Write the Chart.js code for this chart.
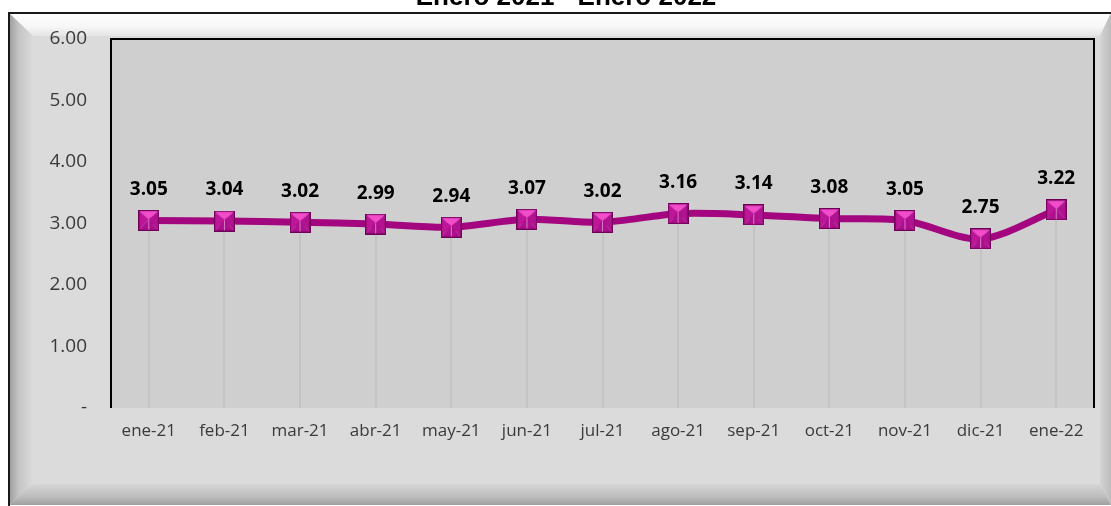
<!DOCTYPE html>
<html>
<head>
<meta charset="utf-8">
<script src="https://cdn.jsdelivr.net/npm/chart.js@4.4.1/dist/chart.umd.min.js"></script>
<style>
html,body{margin:0;padding:0;background:#fff;}
canvas{display:block;}
</style>
</head>
<body>
<canvas id="c" width="1111" height="506"></canvas>
<script>
const titleText = 'Enero 2021 - Enero 2022';
const categories = ['ene-21','feb-21','mar-21','abr-21','may-21','jun-21','jul-21','ago-21','sep-21','oct-21','nov-21','dic-21','ene-22'];
const values = [3.05,3.04,3.02,2.99,2.94,3.07,3.02,3.16,3.14,3.08,3.05,2.75,3.22];
const yTicks = [0,1,2,3,4,5,6];

// pyramid square marker
function makeMarker(){
  const s = 21, c = document.createElement('canvas');
  c.width = s; c.height = s;
  const g = c.getContext('2d');
  const cx = s/2, cy = s*0.45;
  const tri = (pts, col) => { g.beginPath(); g.moveTo(pts[0][0],pts[0][1]); for(let i=1;i<pts.length;i++) g.lineTo(pts[i][0],pts[i][1]); g.closePath(); g.fillStyle = col; g.fill(); };
  tri([[0,0],[s,0],[cx,cy]], '#f24ccb');
  tri([[0,0],[0,s],[cx,cy]], '#be1699');
  tri([[s,0],[s,s],[cx,cy]], '#b01290');
  tri([[0,s],[s,s],[cx,cy]], '#ac108c');
  g.strokeStyle = 'rgba(230,150,215,0.8)'; g.lineWidth = 1;
  g.beginPath(); g.moveTo(cx, cy); g.lineTo(cx, s); g.stroke();
  g.strokeStyle = '#6e0058'; g.lineWidth = 1.2;
  g.strokeRect(0.6,0.6,s-1.2,s-1.2);
  return c;
}
const marker = makeMarker();

const framePlugin = {
  id: 'frame',
  beforeDraw(chart){
    const ctx = chart.ctx, W = chart.width, H = chart.height;
    ctx.save();
    ctx.fillStyle = '#ffffff';
    ctx.fillRect(0,0,W,H);
    const L = 9, T = 13, R = 1111, B = 505;
    const iL = 33, iT = 36, iR = 1100, iB = 484;
    ctx.fillStyle = '#dcdbdc';
    ctx.fillRect(L,T,R-L,B-T);
    let gr = ctx.createLinearGradient(0,T,0,iT);
    gr.addColorStop(0,'#ffffff'); gr.addColorStop(0.6,'#f6f6f6'); gr.addColorStop(1,'#e4e4e4');
    ctx.fillStyle = gr;
    ctx.beginPath(); ctx.moveTo(L,T); ctx.lineTo(R,T); ctx.lineTo(iR,iT); ctx.lineTo(iL,iT); ctx.closePath(); ctx.fill();
    gr = ctx.createLinearGradient(L,0,iL,0);
    gr.addColorStop(0,'#9c9c9c'); gr.addColorStop(0.4,'#c4c4c4'); gr.addColorStop(1,'#dcdbdc');
    ctx.fillStyle = gr;
    ctx.beginPath(); ctx.moveTo(L,T); ctx.lineTo(iL,iT); ctx.lineTo(iL,iB); ctx.lineTo(L,B); ctx.closePath(); ctx.fill();
    gr = ctx.createLinearGradient(0,iB,0,B);
    gr.addColorStop(0,'#d6d6d6'); gr.addColorStop(0.6,'#bdbdbd'); gr.addColorStop(1,'#a0a0a0');
    ctx.fillStyle = gr;
    ctx.beginPath(); ctx.moveTo(L,B); ctx.lineTo(iL,iB); ctx.lineTo(iR,iB); ctx.lineTo(R,B); ctx.closePath(); ctx.fill();
    gr = ctx.createLinearGradient(iR,0,R,0);
    gr.addColorStop(0,'#d4d4d4'); gr.addColorStop(1,'#bcbcbc');
    ctx.fillStyle = gr;
    ctx.beginPath(); ctx.moveTo(R,T); ctx.lineTo(R,B); ctx.lineTo(iR,iB); ctx.lineTo(iR,iT); ctx.closePath(); ctx.fill();
    ctx.strokeStyle = '#1a1a1a'; ctx.lineWidth = 2;
    ctx.beginPath(); ctx.moveTo(L,B+2); ctx.lineTo(L,T); ctx.lineTo(R+2,T); ctx.stroke();
    const a = chart.chartArea;
    ctx.fillStyle = '#d0cfd0';
    ctx.fillRect(a.left,a.top,a.right-a.left,a.bottom-a.top);
    ctx.strokeStyle = '#000000'; ctx.lineWidth = 2;
    ctx.beginPath(); ctx.moveTo(a.left,a.bottom); ctx.lineTo(a.left,a.top); ctx.lineTo(a.right,a.top); ctx.lineTo(a.right,a.bottom); ctx.stroke();
    ctx.fillStyle = '#000';
    ctx.font = 'bold 26px "Liberation Sans", Arial, sans-serif';
    ctx.textAlign = 'center'; ctx.textBaseline = 'alphabetic';
    ctx.fillText(titleText, 566, 5);
    ctx.restore();
  },
  beforeDatasetsDraw(chart){
    const ctx = chart.ctx, a = chart.chartArea;
    const meta = chart.getDatasetMeta(0);
    ctx.save();
    ctx.strokeStyle = '#c4c4c4'; ctx.lineWidth = 2;
    meta.data.forEach(p => { ctx.beginPath(); ctx.moveTo(Math.round(p.x),p.y); ctx.lineTo(Math.round(p.x),a.bottom); ctx.stroke(); });
    ctx.restore();
  },
  afterDatasetsDraw(chart){
    const ctx = chart.ctx;
    const meta = chart.getDatasetMeta(0);
    ctx.save();
    ctx.fillStyle = '#000';
    ctx.font = 'bold 19px "Open Sans", sans-serif';
    ctx.textAlign = 'center'; ctx.textBaseline = 'middle';
    meta.data.forEach((p,i) => ctx.fillText(values[i].toFixed(2), p.x, p.y - 31));
    ctx.restore();
  }
};

new Chart(document.getElementById('c'), {
  type: 'line',
  data: {
    labels: categories,
    datasets: [{
      data: values,
      borderColor: '#a3067f',
      borderWidth: 7,
      tension: 0.3,
      pointStyle: marker,
      pointRadius: 10,
      fill: false
    }]
  },
  options: {
    responsive: false,
    animation: false,
    devicePixelRatio: 1,
    layout: { padding: { top: 39, right: 14, left: 0, bottom: 0 } },
    plugins: { legend: { display: false }, tooltip: { enabled: false } },
    scales: {
      y: {
        min: 0, max: 6,
        afterBuildTicks: s => { s.ticks = yTicks.map(v => ({ value: v })); },
        afterFit: s => { s.width = 111; },
        grid: { display: false, drawTicks: false },
        border: { display: false },
        ticks: {
          padding: 24,
          color: '#3a3a3a',
          font: { family: '"Open Sans", sans-serif', size: 19 },
          callback: v => v === 0 ? '-' : Number(v).toFixed(2)
        }
      },
      x: {
        offset: true,
        afterFit: s => { s.height = 98; },
        grid: { display: false, drawTicks: false },
        border: { display: false },
        ticks: {
          padding: 13,
          color: '#3a3a3a',
          maxRotation: 0,
          autoSkip: false,
          font: { family: '"Open Sans", sans-serif', size: 17 }
        }
      }
    }
  },
  plugins: [framePlugin]
});
</script>
</body>
</html>
